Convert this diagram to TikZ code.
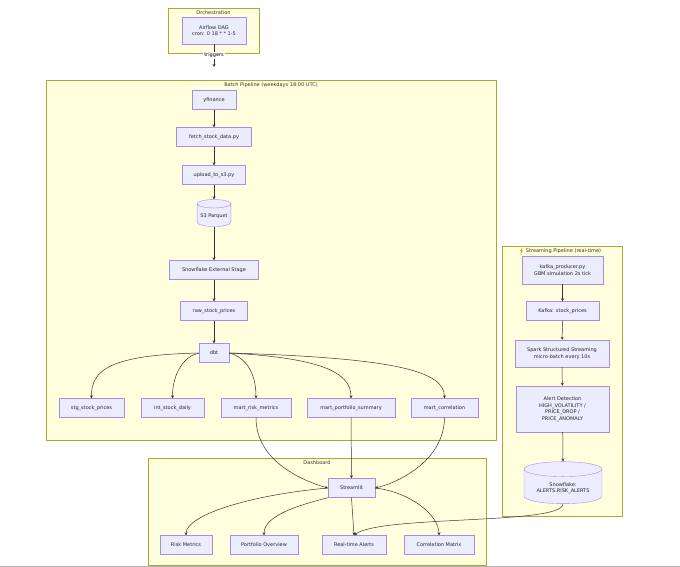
\documentclass[tikz,border=0pt]{standalone}
\usepackage{fontspec}
\setmainfont{DejaVu Sans}
\usetikzlibrary{shapes.geometric,arrows.meta}
\definecolor{cfill}{HTML}{FFFFDE}\definecolor{cline}{HTML}{AAAA33}
\definecolor{nfill}{HTML}{ECECFF}\definecolor{nline}{HTML}{9370DB}
\definecolor{ed}{HTML}{333333}
\begin{document}
\begin{tikzpicture}[x=1pt,y=-1pt,
  clu/.style={draw=cline,fill=cfill,line width=0.5pt},
  ctitle/.style={font=\fontsize{5}{6}\selectfont,text=black!80},
  box/.style={draw=nline!80,fill=nfill,line width=0.4pt,font=\fontsize{5}{6.5}\selectfont,text=black!85,align=center,minimum height=19pt,inner xsep=5pt},
  cyl/.style={cylinder,shape border rotate=90,aspect=0.25,draw=nline!80,fill=nfill,line width=0.4pt,font=\fontsize{5}{6.5}\selectfont,text=black!85,align=center},
  e/.style={draw=ed,line width=0.5pt,-{Stealth[length=3pt,width=3pt]}}]
\useasboundingbox (0,0) rectangle (680,567);
\fill[white] (0,0) rectangle (680,567);
\draw[black!30] (0,566.5)--(680,566.5);
% clusters
\draw[clu] (168,8) rectangle (259,53);
\node[ctitle] at (213.5,12.5) {Orchestration};
\draw[clu] (46,80) rectangle (496,440);
\node[ctitle] at (271,85) {Batch Pipeline (weekdays 18:00 UTC)};
\draw[clu] (148,458) rectangle (486,565);
\node[ctitle] at (317,463) {Dashboard};
\draw[clu] (502,246) rectangle (622,516);
\node[ctitle] (stt) at (563.5,251) {Streaming Pipeline (real-time)};
\fill[orange!80!yellow] ([shift={(0,-4)}]stt.west) -- ++(-2.5,4.2) -- ++(1.3,0) -- ++(-1,3.8) -- ++(2.8,-4.6) -- ++(-1.3,0) -- cycle;
% nodes
\node[box,minimum width=64pt,minimum height=27pt] (af) at (214,30.5) {Airflow DAG\\cron: 0 18 * * 1-5};
\coordinate (trg) at (214,67);
\node[box,minimum width=44pt] (yf) at (214,100) {yfinance};
\node[box,minimum width=75pt] (fe) at (214,137) {fetch\_stock\_data.py};
\node[box,minimum width=63pt] (up) at (214,175) {upload\_to\_s3.py};
\node[cyl,minimum width=33pt,minimum height=27pt] (s3) at (214,216.5) {S3 Parquet};
\node[box,minimum width=89pt] (se) at (214,270) {Snowflake External Stage};
\node[box,minimum width=67pt] (raw) at (214,311) {raw\_stock\_prices};
\node[box,minimum width=30pt] (dbt) at (214,353) {dbt};
\node[box,minimum width=65pt] (stg) at (91.5,408) {stg\_stock\_prices};
\node[box,minimum width=63pt] (int) at (172.5,408) {int\_stock\_daily};
\node[box,minimum width=70pt] (mr) at (256,408) {mart\_risk\_metrics};
\node[box,minimum width=88pt] (mp) at (351,408) {mart\_portfolio\_summary};
\node[box,minimum width=67pt] (mc) at (444.5,408) {mart\_correlation};
\node[box,minimum width=47pt] (st) at (351.5,488) {Streamlit};
\node[box,minimum width=52pt] (rm) at (186,545) {Risk Metrics};
\node[box,minimum width=68pt] (po) at (264,545) {Portfolio Overview};
\node[box,minimum width=64pt] (ra) at (354,545) {Real-time Alerts};
\node[box,minimum width=70pt] (cm) at (439,545) {Correlation Matrix};
\node[box,minimum width=81pt,minimum height=28pt] (kp) at (562.5,270) {kafka\_producer.py\\GBM simulation 2s tick};
\node[box,minimum width=73pt] (ks) at (562.5,311) {Kafka: stock\_prices};
\node[box,minimum width=94pt,minimum height=27pt] (sp) at (562,353.5) {Spark Structured Streaming\\micro-batch every 10s};
\node[box,minimum width=93pt,minimum height=46pt] (ad) at (562.5,409) {Alert Detection\\HIGH\_VOLATILITY /\\PRICE\_DROP /\\PRICE\_ANOMALY};
\node[cyl,minimum width=78pt,minimum height=42pt] (sf) at (563,488) {Snowflake:\\ALERTS.RISK\_ALERTS};
% edges
\draw[e] (af) -- node[fill=white,font=\fontsize{5}{6}\selectfont,inner sep=1pt,pos=0.5] {triggers} (trg);
\draw[e] (yf)--(fe); \draw[e] (fe)--(up); \draw[e] (up)--(s3.top);
\draw[e] (s3.bottom)--(se); \draw[e] (se)--(raw); \draw[e] (raw)--(dbt);
\draw[e] (dbt.west) .. controls (110,355) and (91,370) .. (stg.north);
\draw[e] (dbt.west) .. controls (185,356) and (172.5,372) .. (int.north);
\draw[e] (dbt.east) .. controls (245,357) and (256,372) .. (mr.north);
\draw[e] (dbt.east) .. controls (320,358) and (351,372) .. (mp.north);
\draw[e] (dbt.east) .. controls (400,358) and (444,372) .. (mc.north);
\draw[e] (mr.south) .. controls (256,460) and (300,480) .. (st.west);
\draw[e] (mp.south) -- (st.north);
\draw[e] (mc.south) .. controls (444,460) and (400,482) .. (st.east);
\draw[e] (st.west) .. controls (250,495) and (186,515) .. (rm.north);
\draw[e] (st.south west) .. controls (300,505) and (264,515) .. (po.north);
\draw[e] (st.south) -- (ra.north);
\draw[e] (st.east) .. controls (410,492) and (439,515) .. (cm.north);
\draw[e] (kp)--(ks); \draw[e] (ks)--(sp); \draw[e] (sp)--(ad); \draw[e] (ad)--(sf.top);
\draw[e] (sf.bottom) .. controls (563,525) and (380,515) .. (ra.north);
\end{tikzpicture}
\end{document}
